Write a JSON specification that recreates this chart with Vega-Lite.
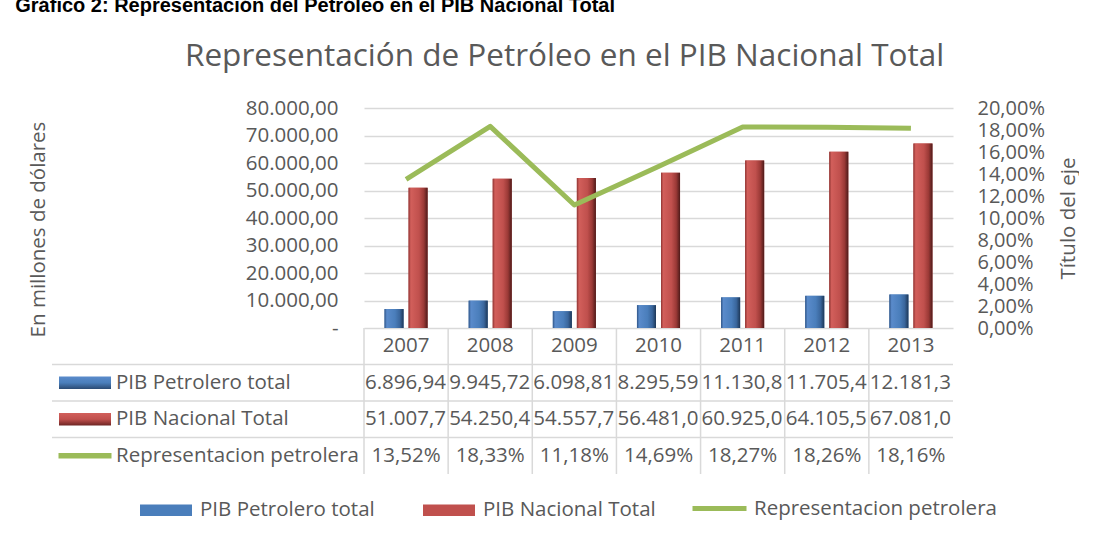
{
  "$schema": "https://vega.github.io/schema/vega-lite/v6.json",
  "padding": {"left": 15, "top": -5, "right": 0, "bottom": 0},
  "background": "white",
  "bounds": "flush",
  "title": {"text": "Gráfico 2: Representación del Petróleo en el PIB Nacional Total", "font": "Liberation Sans", "fontSize": 20, "fontWeight": "bold", "color": "#000000", "anchor": "start", "frame": "bounds", "offset": 25, "dx": -13},
  "config": {
    "locale": {"number": {"decimal": ",", "thousands": ".", "grouping": [3], "currency": ["$", ""]}},
    "view": {"stroke": null},
    "font": "Open Sans",
    "text": {"font": "Open Sans", "fontSize": 20.5, "color": "#595959"}
  },
  "datasets": {
    "pib": [
      {"year": "2007", "serie": "PIB Petrolero total", "valor": 6896.94},
      {"year": "2008", "serie": "PIB Petrolero total", "valor": 9945.72},
      {"year": "2009", "serie": "PIB Petrolero total", "valor": 6098.81},
      {"year": "2010", "serie": "PIB Petrolero total", "valor": 8295.59},
      {"year": "2011", "serie": "PIB Petrolero total", "valor": 11130.8},
      {"year": "2012", "serie": "PIB Petrolero total", "valor": 11705.4},
      {"year": "2013", "serie": "PIB Petrolero total", "valor": 12181.3},
      {"year": "2007", "serie": "PIB Nacional Total", "valor": 51007.7},
      {"year": "2008", "serie": "PIB Nacional Total", "valor": 54250.4},
      {"year": "2009", "serie": "PIB Nacional Total", "valor": 54557.7},
      {"year": "2010", "serie": "PIB Nacional Total", "valor": 56481.0},
      {"year": "2011", "serie": "PIB Nacional Total", "valor": 60925.0},
      {"year": "2012", "serie": "PIB Nacional Total", "valor": 64105.5},
      {"year": "2013", "serie": "PIB Nacional Total", "valor": 67081.0}
    ],
    "rep": [
      {"year": "2007", "rep": 0.1352},
      {"year": "2008", "rep": 0.1833},
      {"year": "2009", "rep": 0.1118},
      {"year": "2010", "rep": 0.1469},
      {"year": "2011", "rep": 0.1827},
      {"year": "2012", "rep": 0.1826},
      {"year": "2013", "rep": 0.1816}
    ],
    "filas": [
      {"serie": "PIB Petrolero total"},
      {"serie": "PIB Nacional Total"},
      {"serie": "Representacion petrolera"}
    ]
  },
  "spacing": 0,
  "vconcat": [
    {
      "title": {"text": "Representación de Petróleo en el PIB Nacional Total", "font": "Open Sans", "fontSize": 31.5, "fontWeight": "normal", "color": "#595959", "anchor": "middle", "frame": "bounds", "offset": 26, "dx": 11},
      "width": 589,
      "height": 220,
      "layer": [
        {
          "data": {"name": "pib"},
          "layer": [
            {
              "mark": {"type": "bar"},
              "encoding": {
                "x": {"field": "year", "type": "ordinal", "scale": {"paddingInner": 0, "paddingOuter": 0}, "axis": null},
                "xOffset": {"field": "serie", "type": "nominal", "scale": {"domain": ["PIB Petrolero total", "PIB Nacional Total"], "paddingInner": 0.208, "paddingOuter": 0.854}},
                "y": {"field": "valor", "type": "quantitative", "stack": null,
                  "scale": {"domain": [0, 80000], "nice": false},
                  "axis": {"orient": "left", "values": [0, 10000, 20000, 30000, 40000, 50000, 60000, 70000, 80000], "format": ",.2f",
                    "labelExpr": "datum.value === 0 ? '-\u2002\u2002' : datum.label", "labelOverlap": false,
                    "labelFont": "Open Sans", "labelFontSize": 20.5, "labelColor": "#595959", "labelPadding": 26,
                    "ticks": false, "domain": false, "grid": true, "gridColor": "#d9d9d9", "gridWidth": 1.3,
                    "title": "En millones de dólares", "titleFont": "Open Sans", "titleFontSize": 20.5, "titleFontWeight": "normal", "titleColor": "#595959", "titlePadding": 197, "titleY": 121}},
                "fill": {"field": "serie", "type": "nominal",
                  "scale": {"domain": ["PIB Petrolero total", "PIB Nacional Total"], "range": ["#4a7ebb", "#c0504d"]},
                  "legend": {"orient": "none", "legendX": -224, "legendY": 376, "direction": "horizontal", "title": null,
                    "symbolType": "M-1,-0.22H1V0.22H-1Z", "symbolSize": 2704, "symbolStrokeWidth": 0, "labelLimit": 400,
                    "labelFont": "Open Sans", "labelFontSize": 20.5, "labelColor": "#595959", "labelOffset": 8, "columnPadding": 48}}
              }
            },
            {
              "mark": {"type": "bar"},
              "encoding": {
                "x": {"field": "year", "type": "ordinal", "scale": {"paddingInner": 0, "paddingOuter": 0}, "axis": null},
                "xOffset": {"field": "serie", "type": "nominal", "scale": {"domain": ["PIB Petrolero total", "PIB Nacional Total"], "paddingInner": 0.208, "paddingOuter": 0.854}},
                "y": {"field": "valor", "type": "quantitative", "stack": null,
                  "scale": {"domain": [0, 80000], "nice": false},
                  "axis": {"orient": "left", "values": [0, 10000, 20000, 30000, 40000, 50000, 60000, 70000, 80000], "format": ",.2f",
                    "labelExpr": "datum.value === 0 ? '-\u2002\u2002' : datum.label", "labelOverlap": false,
                    "labelFont": "Open Sans", "labelFontSize": 20.5, "labelColor": "#595959", "labelPadding": 26,
                    "ticks": false, "domain": false, "grid": true, "gridColor": "#d9d9d9", "gridWidth": 1.3,
                    "title": "En millones de dólares", "titleFont": "Open Sans", "titleFontSize": 20.5, "titleFontWeight": "normal", "titleColor": "#595959", "titlePadding": 197, "titleY": 121}},
                "fill": {
                  "condition": {"test": "datum.serie === 'PIB Petrolero total'",
                    "value": {"gradient": "linear", "x1": 0, "x2": 1, "y1": 0, "y2": 0, "stops": [
                      {"offset": 0, "color": "#2f5486"}, {"offset": 0.12, "color": "#5a8bcb"}, {"offset": 0.55, "color": "#4a7ebb"}, {"offset": 0.8, "color": "#3a669c"}, {"offset": 1, "color": "#1d3757"}]}},
                  "value": {"gradient": "linear", "x1": 0, "x2": 1, "y1": 0, "y2": 0, "stops": [
                    {"offset": 0, "color": "#8e3432"}, {"offset": 0.12, "color": "#d25f5b"}, {"offset": 0.55, "color": "#c0504d"}, {"offset": 0.8, "color": "#9a3936"}, {"offset": 1, "color": "#4d1a19"}]}
                }
              }
            }
          ]
        },
        {
          "data": {"name": "rep"},
          "mark": {"type": "line", "strokeWidth": 5, "strokeJoin": "round", "strokeCap": "butt"},
          "encoding": {
            "x": {"field": "year", "type": "ordinal"},
            "y": {"field": "rep", "type": "quantitative",
              "scale": {"domain": [0, 0.2], "nice": false},
              "axis": {"orient": "right", "values": [0, 0.02, 0.04, 0.06, 0.08, 0.1, 0.12, 0.14, 0.16, 0.18, 0.2], "format": ".2%",
                "labelFont": "Open Sans", "labelFontSize": 20, "labelColor": "#595959", "labelPadding": 24, "labelOverlap": false,
                "ticks": false, "domain": false, "grid": false,
                "title": "Título del eje", "titleFont": "Open Sans", "titleFontSize": 20.5, "titleFontWeight": "normal", "titleColor": "#595959", "titlePadding": 14, "titleAngle": 270, "titleBaseline": "top"}},
            "stroke": {"datum": "Representacion petrolera", "type": "nominal",
              "scale": {"range": ["#9bbb59"]},
              "legend": {"orient": "none", "legendX": 326, "legendY": 371, "title": null, "symbolType": "stroke", "symbolSize": 2916, "symbolStrokeWidth": 5, "labelLimit": 400,
                "labelFont": "Open Sans", "labelFontSize": 20.5, "labelColor": "#595959", "labelOffset": 5}}
          }
        }
      ],
      "resolve": {"scale": {"y": "independent"}}
    },
    {
      "width": 589,
      "height": 146,
      "layer": [
        {
          "data": {"name": "rep"},
          "mark": {"type": "rule", "color": "#d9d9d9", "strokeWidth": 1.5},
          "encoding": {
            "x": {"field": "year", "type": "ordinal", "bandPosition": 0, "scale": {"domain": ["2007", "2008", "2009", "2010", "2011", "2012", "2013"], "paddingInner": 0, "paddingOuter": 0}, "axis": null},
            "y": {"datum": "Año", "type": "nominal", "bandPosition": 0, "scale": {"domain": ["Año", "PIB Petrolero total", "PIB Nacional Total", "Representacion petrolera"], "paddingInner": 0, "paddingOuter": 0}, "axis": null},
            "y2": {"datum": "Representacion petrolera", "bandPosition": 1}
          }
        },
        {
          "mark": {"type": "rule", "color": "#d9d9d9", "strokeWidth": 1.5},
          "encoding": {
            "x": {"datum": "2013", "type": "ordinal", "bandPosition": 1},
            "y": {"datum": "Año", "type": "nominal", "bandPosition": 0},
            "y2": {"datum": "Representacion petrolera", "bandPosition": 1}
          }
        },
        {
          "mark": {"type": "rule", "color": "#d9d9d9", "strokeWidth": 1.5, "xOffset": -312},
          "encoding": {
            "x": {"datum": "2007", "type": "ordinal", "bandPosition": 0},
            "y": {"datum": "PIB Petrolero total", "type": "nominal", "bandPosition": 0},
            "y2": {"datum": "Representacion petrolera", "bandPosition": 1}
          }
        },
        {
          "mark": {"type": "rule", "color": "#d9d9d9", "strokeWidth": 1.5},
          "encoding": {
            "x": {"datum": "2007", "type": "ordinal", "bandPosition": 0},
            "x2": {"datum": "2013", "bandPosition": 1},
            "y": {"datum": "Año", "type": "nominal", "bandPosition": 0}
          }
        },
        {
          "data": {"name": "filas"},
          "mark": {"type": "rule", "color": "#d9d9d9", "strokeWidth": 1.5, "xOffset": -312},
          "encoding": {
            "x": {"datum": "2007", "type": "ordinal", "bandPosition": 0},
            "x2": {"datum": "2013", "bandPosition": 1},
            "y": {"field": "serie", "type": "nominal", "bandPosition": 0}
          }
        },
        {
          "mark": {"type": "rule", "color": "#d9d9d9", "strokeWidth": 1.5, "xOffset": -312},
          "encoding": {
            "x": {"datum": "2007", "type": "ordinal", "bandPosition": 0},
            "x2": {"datum": "2013", "bandPosition": 1},
            "y": {"datum": "Representacion petrolera", "type": "nominal", "bandPosition": 1}
          }
        },
        {
          "data": {"name": "rep"},
          "mark": {"type": "text", "align": "center", "baseline": "middle"},
          "encoding": {
            "x": {"field": "year", "type": "ordinal", "bandPosition": 0.5},
            "y": {"datum": "Año", "type": "nominal", "bandPosition": 0.5},
            "text": {"field": "year"}
          }
        },
        {
          "data": {"name": "pib"},
          "mark": {"type": "text", "align": "left", "baseline": "middle", "dx": 1, "limit": 84, "ellipsis": "\u200b"},
          "encoding": {
            "x": {"field": "year", "type": "ordinal", "bandPosition": 0},
            "y": {"field": "serie", "type": "nominal", "bandPosition": 0.5},
            "text": {"field": "valor", "type": "quantitative", "format": ",.2f"}
          }
        },
        {
          "data": {"name": "rep"},
          "mark": {"type": "text", "align": "center", "baseline": "middle"},
          "encoding": {
            "x": {"field": "year", "type": "ordinal", "bandPosition": 0.5},
            "y": {"datum": "Representacion petrolera", "type": "nominal", "bandPosition": 0.5},
            "text": {"field": "rep", "type": "quantitative", "format": ".2%"}
          }
        },
        {
          "data": {"name": "filas"},
          "mark": {"type": "text", "align": "left", "baseline": "middle", "dx": -248},
          "encoding": {
            "x": {"datum": "2007", "type": "ordinal", "bandPosition": 0},
            "y": {"field": "serie", "type": "nominal", "bandPosition": 0.5},
            "text": {"field": "serie"}
          }
        },
        {
          "data": {"name": "filas"},
          "transform": [{"filter": "datum.serie !== 'Representacion petrolera'"}],
          "mark": {"type": "point", "shape": "M-1,-0.24H1V0.24H-1Z", "size": 2704, "filled": true, "opacity": 1, "xOffset": -279},
          "encoding": {
            "x": {"datum": "2007", "type": "ordinal", "bandPosition": 0},
            "y": {"field": "serie", "type": "nominal", "bandPosition": 0.5},
            "fill": {
              "condition": {"test": "datum.serie === 'PIB Petrolero total'",
                "value": {"gradient": "linear", "x1": 0, "x2": 0, "y1": 0, "y2": 1, "stops": [{"offset": 0, "color": "#5a8bcb"}, {"offset": 0.5, "color": "#4a7ebb"}, {"offset": 1, "color": "#2a4a73"}]}},
              "value": {"gradient": "linear", "x1": 0, "x2": 0, "y1": 0, "y2": 1, "stops": [{"offset": 0, "color": "#d25f5b"}, {"offset": 0.5, "color": "#c0504d"}, {"offset": 1, "color": "#6e2523"}]}
            }
          }
        },
        {
          "data": {"name": "filas"},
          "transform": [{"filter": "datum.serie === 'Representacion petrolera'"}],
          "mark": {"type": "point", "shape": "M-1,-0.1H1V0.1H-1Z", "size": 2809, "filled": true, "opacity": 1, "color": "#9bbb59", "xOffset": -279},
          "encoding": {
            "x": {"datum": "2007", "type": "ordinal", "bandPosition": 0},
            "y": {"field": "serie", "type": "nominal", "bandPosition": 0.5}
          }
        }
      ]
    }
  ]
}
